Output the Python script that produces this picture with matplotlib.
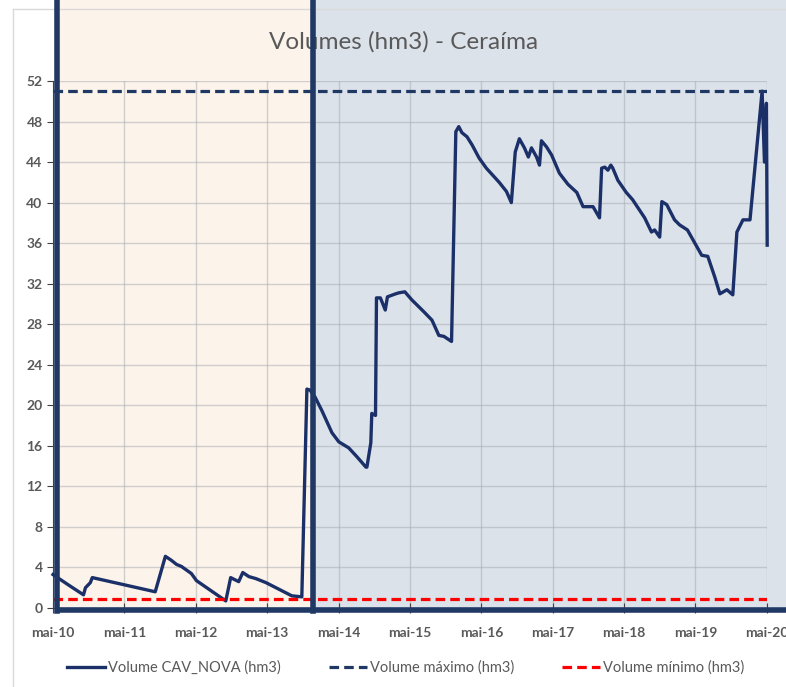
import numpy as np
import matplotlib
matplotlib.use('Agg')
import matplotlib.pyplot as plt
from matplotlib.lines import Line2D

plt.rcParams['font.family'] = ['Lato', 'DejaVu Sans']

# volume series (hm3)
dates = ['2010-05-01', '2010-07-17', '2010-10-04', '2010-10-14', '2010-11-08', '2010-11-18',
         '2011-10-06', '2011-11-27', '2011-12-28', '2012-01-23', '2012-02-17', '2012-04-08',
         '2012-05-04', '2012-06-18', '2012-10-01', '2012-10-26', '2012-12-06', '2012-12-27',
         '2013-01-27', '2013-03-04', '2013-04-25', '2013-09-04', '2013-10-25', '2013-11-20',
         '2013-12-06', '2014-01-01', '2014-02-04', '2014-03-28', '2014-05-02', '2014-06-22',
         '2014-08-04', '2014-09-18', '2014-09-23', '2014-10-13', '2014-10-18', '2014-11-06',
         '2014-11-11', '2014-12-01', '2014-12-26', '2015-01-06', '2015-02-17', '2015-03-06',
         '2015-04-05', '2015-05-11', '2015-07-13', '2015-08-22', '2015-09-26', '2015-10-22',
         '2015-11-30', '2015-12-22', '2016-01-06', '2016-01-22', '2016-02-17', '2016-03-14',
         '2016-04-19', '2016-05-26', '2016-07-31', '2016-09-06', '2016-10-01', '2016-10-21',
         '2016-11-11', '2016-12-07', '2016-12-27', '2017-01-12', '2017-02-07', '2017-02-22',
         '2017-03-04', '2017-03-30', '2017-04-25', '2017-06-04', '2017-07-18', '2017-09-01',
         '2017-10-03', '2017-11-23', '2017-12-26', '2018-01-06', '2018-01-22', '2018-02-07',
         '2018-02-22', '2018-03-04', '2018-03-30', '2018-05-12', '2018-06-13', '2018-08-14',
         '2018-09-18', '2018-10-04', '2018-10-30', '2018-11-10', '2018-12-05', '2019-01-14',
         '2019-02-09', '2019-03-21', '2019-06-02', '2019-07-03', '2019-08-07', '2019-09-03',
         '2019-10-09', '2019-11-08', '2019-11-29', '2019-12-30', '2020-02-04', '2020-04-06',
         '2020-04-18', '2020-04-28', '2020-05-02']
volume = [3.3, 2.3, 1.3, 2.0, 2.5, 3.0,
          1.6, 5.1, 4.7, 4.3, 4.1, 3.4,
          2.7, 2.1, 0.7, 3.0, 2.6, 3.5,
          3.1, 2.9, 2.5, 1.2, 1.1, 21.6,
          21.5, 20.8, 19.5, 17.3, 16.4, 15.8,
          14.9, 13.9, 13.9, 16.3, 19.2, 19.0,
          30.6, 30.6, 29.4, 30.7, 31.0, 31.1,
          31.2, 30.4, 29.2, 28.4, 26.9, 26.8,
          26.3, 47.0, 47.5, 46.9, 46.5, 45.7,
          44.4, 43.4, 42.0, 41.1, 40.0, 45.0,
          46.3, 45.4, 44.5, 45.4, 44.5, 43.7,
          46.1, 45.5, 44.7, 42.9, 41.8, 41.0,
          39.6, 39.6, 38.5, 43.4, 43.5, 43.2,
          43.7, 43.4, 42.2, 41.0, 40.3, 38.5,
          37.1, 37.3, 36.6, 40.1, 39.8, 38.3,
          37.8, 37.3, 34.8, 34.7, 32.7, 31.0,
          31.4, 30.9, 37.1, 38.3, 38.3, 51.0,
          44.0, 49.8, 35.8]

vol_max = 51.0
vol_min = 0.9
period = ['2010-05-01', '2020-05-01']
split_date = '2013-12-20'
left_edge = '2010-05-24'

tick_dates = ['2010-05-01', '2011-05-01', '2012-05-01', '2013-05-01', '2014-05-01', '2015-05-01',
              '2016-05-01', '2017-05-01', '2018-05-01', '2019-05-01', '2020-05-01']
tick_labels = ['mai-10', 'mai-11', 'mai-12', 'mai-13', 'mai-14', 'mai-15',
               'mai-16', 'mai-17', 'mai-18', 'mai-19', 'mai-20']
y_ticks = list(range(0, 53, 4))

x = np.array(dates, dtype='datetime64[D]')
xp = np.array(period, dtype='datetime64[D]')
xs = np.datetime64(split_date)
xl = np.datetime64(left_edge)
far = np.datetime64('2021-06-01')

W, H = 786, 687
fig = plt.figure(figsize=(W / 100, H / 100), dpi=100)
fig.patch.set_facecolor('white')
ax = fig.add_axes([53 / W, 1 - 608 / H, (767 - 53) / W, (608 - 81) / H])
ax.set_facecolor('none')

navy = '#1f3864'
line_col = '#1b3068'
grey_txt = '#595959'

# shaded periods (spill outside the plot like the overlay in the source)
top = 1 + 81 / 527 + 0.02
bot = -2.5 / 527
ax.axvspan(xl, xs, ymin=bot, ymax=top, color='#fcf3ea', zorder=0, clip_on=False, lw=0)
ax.axvspan(xs, far, ymin=bot, ymax=top, color='#dce2ea', zorder=0, clip_on=False, lw=0)

# chart outer frame
ax.add_line(Line2D([13 / W, 13 / W], [0, 1 - 9 / H], transform=fig.transFigure,
                   color='#d9d9d9', lw=1, zorder=0.6, clip_on=False))
ax.add_line(Line2D([13 / W, 1], [1 - 9 / H, 1 - 9 / H], transform=fig.transFigure,
                   color='#d9d9d9', lw=1, zorder=0.6, clip_on=False))

ax.set_axisbelow(True)
ax.grid(True, color='#a6aab0', alpha=0.5, lw=1)

ax.plot(x, volume, color=line_col, lw=2.4, zorder=3, solid_joinstyle='round',
        label='Volume CAV_NOVA (hm3)', clip_on=False)
ax.plot(xp, [vol_max, vol_max], color=navy, lw=2.3, ls=(0, (3, 1.6)), zorder=3,
        label='Volume máximo (hm3)')
ax.plot(xp, [vol_min, vol_min], color='#ff0000', lw=2.3, ls=(0, (3, 1.6)), zorder=3,
        label='Volume mínimo (hm3)')

# thick borders of the shaded periods
ax.axvline(xl, ymin=bot, ymax=top, color=navy, lw=4, zorder=10, clip_on=False)
ax.axvline(xs, ymin=bot, ymax=top, color=navy, lw=4, zorder=10, clip_on=False)
ax.plot([xl, far], [-0.2, -0.2], color=navy, lw=4, zorder=10, clip_on=False,
        solid_capstyle='butt')

ax.set_xlim(xp[0], xp[1])
ax.set_ylim(0, 52)
ax.set_yticks(y_ticks)
ax.set_xticks(np.array(tick_dates, dtype='datetime64[D]'))
ax.set_xticklabels(tick_labels)
ax.tick_params(axis='both', colors='#404040', labelcolor=grey_txt, labelsize=10, length=4)
ax.tick_params(axis='x', direction='inout', length=7, pad=10)
for lab in ax.get_xticklabels() + ax.get_yticklabels():
    lab.set_fontweight('bold')

for s in ['top', 'right']:
    ax.spines[s].set_visible(False)
ax.spines['left'].set_color('#404040')
ax.spines['bottom'].set_color('#404040')

ax.text(404 / W, 1 - 42 / H, 'Volumes (hm3) - Ceraíma', transform=fig.transFigure,
        ha='center', va='center', fontsize=17.5, color=grey_txt, zorder=3)

fig.legend(loc='center', bbox_to_anchor=(406 / W, 1 - 668 / H), ncol=3, frameon=False,
           fontsize=10.5, handlelength=2.6, handletextpad=0.2, columnspacing=3.3,
           labelcolor=grey_txt)

fig.savefig('out.png', dpi=100)
